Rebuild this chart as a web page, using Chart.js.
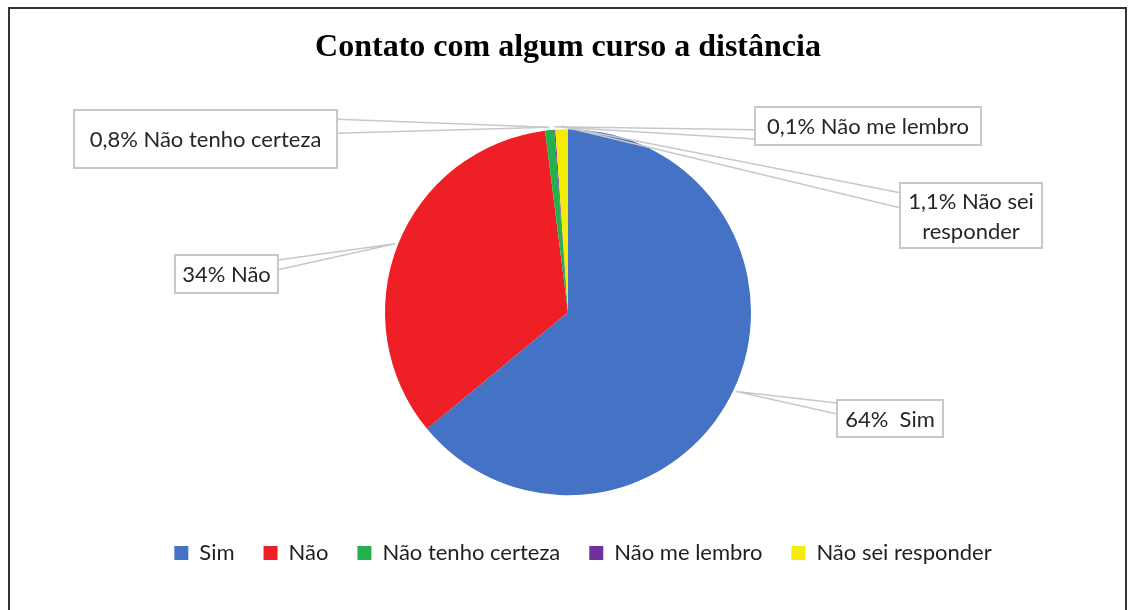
<!DOCTYPE html>
<html>
<head>
<meta charset="utf-8">
<script src="https://cdn.jsdelivr.net/npm/chart.js@4.4.1/dist/chart.umd.min.js"></script>
<style>
  html, body { margin: 0; padding: 0; background: #fff; overflow: hidden; }
  #wrap { position: relative; width: 1129px; height: 610px; }
  #frame { position: absolute; left: 8px; top: 7px; width: 1115px; height: 700px; border: 2px solid #333; pointer-events: none; }
</style>
</head>
<body>
<div id="wrap">
  <canvas id="pie"></canvas>
  <div id="frame"></div>
</div>
<script>
var categories = ["Sim", "Não", "Não tenho certeza", "Não me lembro", "Não sei responder"];
var values = [64, 34, 0.8, 0.1, 1.1];
var colors = ["#4472C4", "#EE1F25", "#22B14C", "#7030A0", "#F4EC06"];

// callout boxes: x, y, w, h, side the wedge leaves from, wedge base fractions
var callouts = [
    { x: 837, y: 400, w: 106, h: 37, side: "left", f: [0.08, 0.38], lines: ["{p}  Sim"] },
    { x: 175, y: 255, w: 103, h: 38, side: "right", f: [0.13, 0.39], lines: ["{p} Não"] },
    { x: 74, y: 110, w: 263, h: 58, side: "right", f: [0.16, 0.40], lines: ["{p} Não tenho certeza"] },
    { x: 755, y: 107, w: 226, h: 38, side: "left", f: [0.60, 0.84], lines: ["{p} Não me lembro"] },
    { x: 900, y: 183, w: 142, h: 65, side: "left", f: [0.15, 0.38], lines: ["{p} Não sei", "responder"] }
];

function fmtPct(v) {
    return String(v).replace(".", ",") + "%";
}

var calloutPlugin = {
    id: "callouts",
    afterLayout: function (chart) {
        // legend sits a little right of the pie in the original
        chart.legend.left += 15;
        chart.legend.right += 15;
    },
    afterDatasetsDraw: function (chart) {
        var ctx = chart.ctx;
        var arcs = chart.getDatasetMeta(0).data;
        ctx.save();
        for (var i = 0; i < arcs.length; i++) {
            var a = arcs[i];
            var c = callouts[i];
            var mid = (a.startAngle + a.endAngle) / 2;
            var r = a.outerRadius + 3;
            var ax = a.x + Math.cos(mid) * r;
            var ay = a.y + Math.sin(mid) * r;
            var ex = c.side == "left" ? c.x : c.x + c.w;
            ctx.strokeStyle = "#C8C8C8";
            ctx.lineWidth = 1.5;
            ctx.beginPath();
            ctx.moveTo(ex, c.y + c.h * c.f[0]);
            ctx.lineTo(ax, ay);
            ctx.lineTo(ex, c.y + c.h * c.f[1]);
            ctx.stroke();
            ctx.fillStyle = "#fff";
            ctx.fillRect(c.x, c.y, c.w, c.h);
            ctx.lineWidth = 2;
            ctx.strokeRect(c.x, c.y, c.w, c.h);
            ctx.fillStyle = "#262626";
            ctx.font = "22px Lato";
            ctx.textAlign = "center";
            ctx.textBaseline = "middle";
            var lh = 30;
            var y0 = c.y + c.h / 2 + 1 - (c.lines.length - 1) * lh / 2;
            for (var j = 0; j < c.lines.length; j++) {
                ctx.fillText(c.lines[j].replace("{p}", fmtPct(values[i])), c.x + c.w / 2, y0 + j * lh);
            }
        }
        ctx.restore();
    }
};

var chartData = {
    labels: categories,
    datasets: [{
        data: values,
        backgroundColor: colors,
        borderWidth: 0,
        hoverOffset: 0,
        radius: 183
    }]
};

var ctx = document.getElementById("pie");
var pieChart = new Chart(ctx, {
    type: "pie",
    data: chartData,
    plugins: [calloutPlugin],
    options: {
        responsive: true,
        maintainAspectRatio: false,
        animation: false,
        layout: { padding: { top: 10, bottom: 36, left: 20, right: 13 } },
        plugins: {
            title: {
                display: true,
                text: "Contato com algum curso a distância",
                color: "#000",
                font: { family: "'Liberation Serif', 'Times New Roman', serif", size: 32, weight: "bold" },
                padding: { top: 19, bottom: 44 }
            },
            legend: {
                position: "bottom",
                labels: {
                    color: "#1f1f1f",
                    font: { family: "Lato", size: 22 },
                    boxWidth: 14,
                    boxHeight: 14,
                    padding: 29
                }
            },
            tooltip: { enabled: false }
        }
    }
});
</script>
</body>
</html>
